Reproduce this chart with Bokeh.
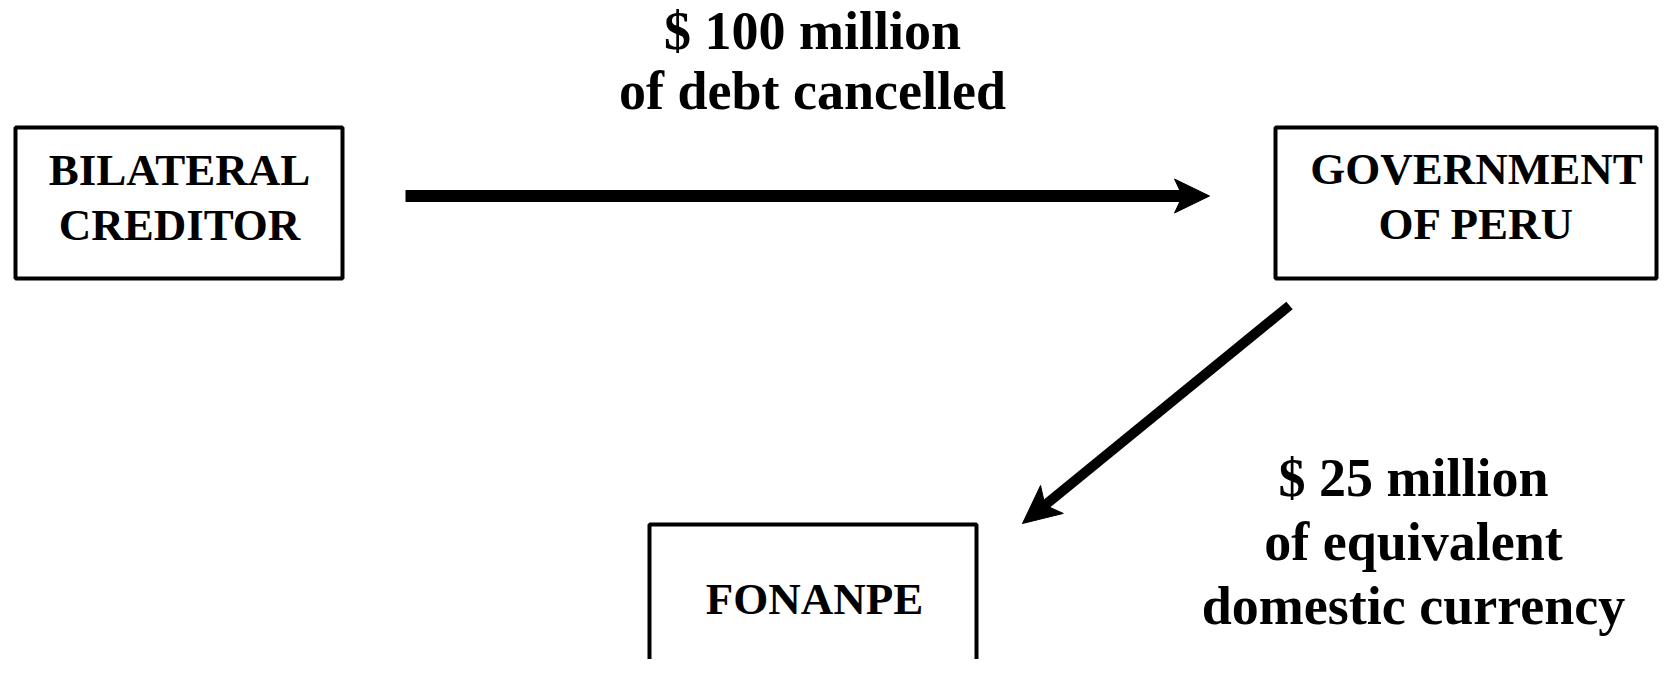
import numpy as np
from bokeh.plotting import figure
from bokeh.models import Range1d
from bokeh.core.properties import value
from bokeh.embed import file_html
from bokeh.resources import INLINE

# ---- content ----
node_labels = ["BILATERAL\nCREDITOR", "GOVERNMENT\nOF PERU", "FONANPE"]
flow_labels = ["$ 100 million\nof debt cancelled",
               "$ 25 million\nof equivalent\ndomestic currency"]
flow_from = [0, 1]
flow_to = [1, 2]

# ---- layout (page pixel coordinates) ----
box_left = [15, 1275, 649]
box_right = [342, 1656, 976]
box_top = [127, 127, 524]
box_bottom = [278, 278, 690]
node_text_x = [179, 1476, 814]
node_text_y0 = [188, 187, 617]
node_line_gap = 55

flow_text_x = [812, 1413]
flow_text_y0 = [50, 497]
flow_line_gap = [60, 64]

baseline_fix = -19   # renderer places the alphabetic baseline lower than requested

arrow_start = [(405, 195.5), (1289, 305)]
arrow_end = [(1209, 195.5), (1022, 523)]
arrow_width = [12, 10]
head_len = [35, 38]
head_half = [17, 18]
head_notch = [8, 9]

FONT = value("Liberation Serif")

p = figure(width=1659, height=659, x_range=Range1d(0, 1659), y_range=Range1d(659, 0),
           x_axis_type=None, y_axis_type=None, toolbar_location=None,
           output_backend="svg", min_border=0)
p.grid.visible = False
p.outline_line_color = None
p.background_fill_color = "white"
p.border_fill_color = "white"

# boxes
p.quad(left=box_left, right=box_right, top=box_top, bottom=box_bottom,
       fill_color=None, line_color="black", line_width=4)

# node texts
tx, ty, tt = [], [], []
for i, lab in enumerate(node_labels):
    for j, line in enumerate(lab.split("\n")):
        tx.append(node_text_x[i]); ty.append(node_text_y0[i] + j * node_line_gap + baseline_fix); tt.append(line)
p.text(x=tx, y=ty, text=tt, text_font=FONT, text_font_style="bold", text_font_size="45px",
       text_align="center", text_baseline="alphabetic", text_color="black")

# flow texts
fx, fy, ft = [], [], []
for i, lab in enumerate(flow_labels):
    for j, line in enumerate(lab.split("\n")):
        fx.append(flow_text_x[i]); fy.append(flow_text_y0[i] + j * flow_line_gap[i] + baseline_fix - 1); ft.append(line)
p.text(x=fx, y=fy, text=ft, text_font=FONT, text_font_style="bold", text_font_size="54px",
       text_align="center", text_baseline="alphabetic", text_color="black")

# arrows
for k in range(len(flow_from)):
    S = np.array(arrow_start[k], dtype=float)
    E = np.array(arrow_end[k], dtype=float)
    u = (E - S) / np.linalg.norm(E - S)
    n = np.array([-u[1], u[0]])
    L, W, d = head_len[k], head_half[k], head_notch[k]
    notch = E - (L - d) * u
    p.line(x=[S[0], notch[0] + u[0] * 2], y=[S[1], notch[1] + u[1] * 2],
           line_width=arrow_width[k], line_color="black", line_cap="butt")
    pts = [E, E - L * u + W * n, notch, E - L * u - W * n]
    p.patch(x=[q[0] for q in pts], y=[q[1] for q in pts], fill_color="black", line_color="black",
            line_width=1)

open("out.html", "w").write(file_html(p, INLINE))
